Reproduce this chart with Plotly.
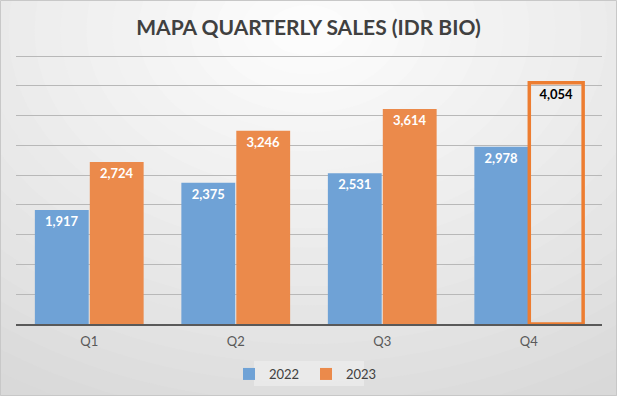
import plotly.graph_objects as go

quarters = ["Q1", "Q2", "Q3", "Q4"]
sales_2022 = [1917, 2375, 2531, 2978]
sales_2023 = [2724, 3246, 3614, 4054]

BLUE = "#6FA2D6"
ORANGE = "#EB8A4B"
FONT = "Lato"

W, H = 617, 396
L, R, T, B = 16, 15, 55, 72
pw, ph = W - L - R, H - T - B


def px2paper(x, y):
    return (x - L) / pw, (H - B - y) / ph


fig = go.Figure()

fig.add_trace(go.Bar(
    name="2022", x=quarters, y=sales_2022,
    marker=dict(color=BLUE, line=dict(width=0)),
    texttemplate="%{y:,}", textposition="inside", insidetextanchor="end",
    textangle=0,
    textfont=dict(family=FONT, size=13, color="white", weight="bold"),
))

fill23 = [ORANGE, ORANGE, ORANGE, "rgba(0,0,0,0)"]
lw23 = [0, 0, 0, 3.5]
tc23 = ["white", "white", "white", "black"]
fig.add_trace(go.Bar(
    name="2023", x=quarters, y=sales_2023,
    marker=dict(color=fill23, line=dict(width=lw23, color="#ED7D31")),
    texttemplate="%{y:,}", textposition="inside", insidetextanchor="end",
    textangle=0,
    textfont=dict(family=FONT, size=13, color=tc23, weight="bold"),
))

# radial-ish gradient background made of concentric ellipses
shapes = []
n = 28
c_out, c_in = 202, 252
for i in range(n):
    f = i / (n - 1)
    rx = 700 * (1 - f) + 40
    ry = 520 * (1 - f) + 25
    cx, cy = 308, 30
    x0, y0 = px2paper(cx - rx, cy - ry)
    x1, y1 = px2paper(cx + rx, cy + ry)
    c = int(c_out + (c_in - c_out) * f ** 0.8)
    shapes.append(dict(type="circle", xref="paper", yref="paper",
                       x0=x0, x1=x1, y0=y1, y1=y0, layer="below",
                       fillcolor=f"rgb({c},{c},{c})", line=dict(width=0)))
# legend box background
lx0, ly0 = px2paper(254, 361)
lx1, ly1 = px2paper(364, 386)
shapes.append(dict(type="rect", xref="paper", yref="paper", x0=lx0, x1=lx1,
                   y0=ly1, y1=ly0, layer="below",
                   fillcolor="rgba(240,240,240,0.6)", line=dict(width=0)))
# outer border
bx0, by0 = px2paper(0.5, 0.5)
bx1, by1 = px2paper(W - 0.5, H - 0.5)
shapes.append(dict(type="rect", xref="paper", yref="paper", x0=bx0, x1=bx1,
                   y0=by1, y1=by0, layer="below",
                   fillcolor="rgba(0,0,0,0)", line=dict(width=1, color="#c8c8c8")))

lgx, lgy = px2paper(306, 374)

fig.update_layout(
    width=W, height=H,
    margin=dict(l=L, r=R, t=T, b=B, autoexpand=False),
    paper_bgcolor="rgb(205,205,205)",
    plot_bgcolor="rgba(0,0,0,0)",
    barmode="group", bargap=0.25, bargroupgap=0.02,
    title=dict(text="MAPA QUARTERLY SALES (IDR BIO)", x=0.5, xanchor="center",
               xref="container",
               y=1 - 28 / H, yanchor="middle",
               font=dict(family=FONT, size=21, color="#404040", weight="bold")),
    font=dict(family=FONT, color="#595959"),
    shapes=shapes,
    showlegend=True,
    legend=dict(orientation="h", x=lgx, xanchor="center", y=lgy, yanchor="middle",
                font=dict(family=FONT, size=13, color="#404040"),
                bgcolor="rgba(0,0,0,0)", entrywidth=32, entrywidthmode="pixels",
                traceorder="normal"),
    xaxis=dict(showline=True, linecolor="#595959", linewidth=2,
               tickfont=dict(family=FONT, size=13, color="#595959"),
               ticklabelstandoff=4,
               ticks="", showgrid=False, fixedrange=True),
    yaxis=dict(range=[0, 4520], dtick=500, showgrid=True, gridcolor="#b8b8b8",
               gridwidth=1, showticklabels=False, zeroline=False, ticks="",
               fixedrange=True),
)

fig.write_html("out.html", config={"displayModeBar": False},
               post_script="document.body.style.margin='0';")
